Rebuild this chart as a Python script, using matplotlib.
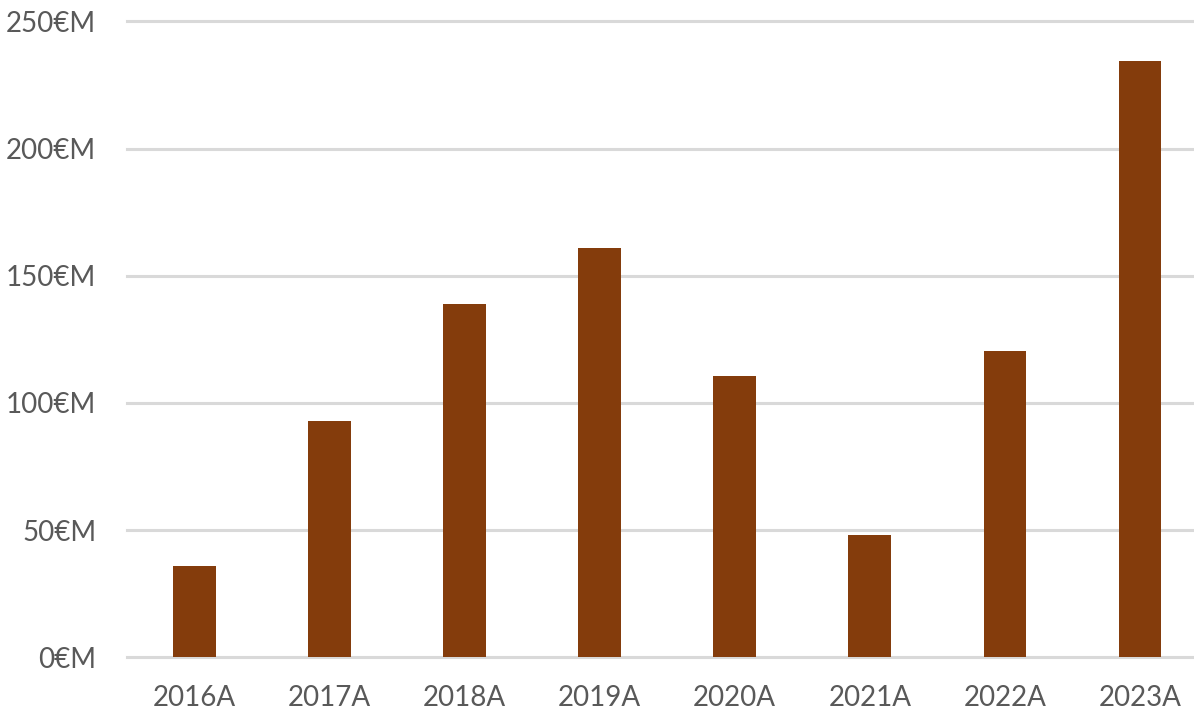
import matplotlib
matplotlib.use("Agg")
import matplotlib.pyplot as plt
from matplotlib.ticker import FuncFormatter

categories = ["2016A", "2017A", "2018A", "2019A", "2020A", "2021A", "2022A", "2023A"]
values = [36, 93, 139, 161, 110.5, 48, 120.3, 234.3]
yticks = [0, 50, 100, 150, 200, 250]

plt.rcParams['font.family'] = ['Lato', 'DejaVu Sans']

W, H = 1194, 718
fig = plt.figure(figsize=(W / 100, H / 100), dpi=100)
left = 126.7 / W
right = 1207.5 / W
bottom = 1 - 657.3 / H
top = 1 - 21.3 / H
ax = fig.add_axes([left, bottom, right - left, top - bottom])

x = list(range(len(categories)))
ax.bar(x, values, width=0.315, color="#843C0C", zorder=3)

ax.set_xlim(-0.5, len(categories) - 0.5)
ax.set_ylim(0, 250)
ax.set_yticks(yticks)
ax.yaxis.set_major_formatter(FuncFormatter(lambda v, p: f"{int(v)}€M"))
ax.set_xticks(x)
ax.set_xticklabels(categories)

ax.grid(axis="y", color="#D9D9D9", linewidth=2.2, zorder=0)
ax.set_axisbelow(True)
for gl in ax.get_ygridlines():
    gl.set_clip_on(False)
for s in ax.spines.values():
    s.set_visible(False)
ax.tick_params(axis="both", length=0, labelsize=20, colors="#595959")
ax.tick_params(axis="y", pad=22)
ax.tick_params(axis="x", pad=20)

fig.savefig("out.png", dpi=100)
